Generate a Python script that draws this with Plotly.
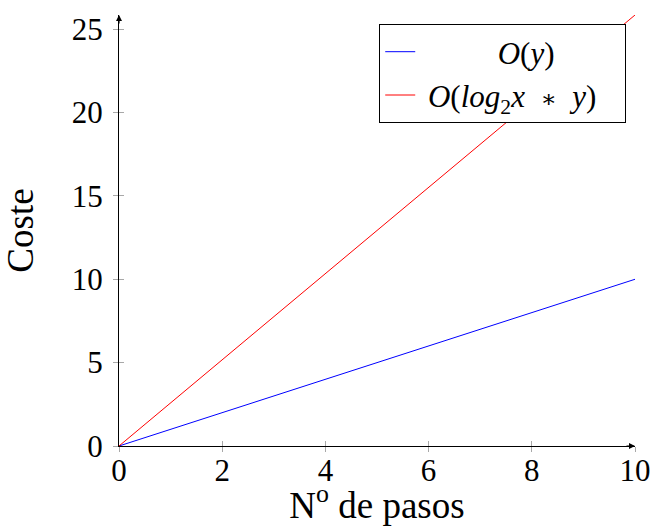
import plotly.graph_objects as go

x_vals = [0, 10]
o_y = [0, 10]
o_log = [0, 25.85]
x_ticks = [0, 2, 4, 6, 8, 10]
y_ticks = [0, 5, 10, 15, 20, 25]
series_names = ["&nbsp;&nbsp;&nbsp;&nbsp;&nbsp;&nbsp;&nbsp;&nbsp;&nbsp;&nbsp;<i>O</i>(<i>y</i>)",
                "&nbsp;<i>O</i>(<i>log</i><sub>2</sub><i>x</i>&nbsp;&nbsp;"
                "<span style=\"font-family:'DejaVu Serif';font-size:24px\">∗</span>"
                "&nbsp;&nbsp;<i>y</i>)&nbsp;&nbsp;&nbsp;"]

FONT = "Liberation Serif"
fig = go.Figure()
fig.add_trace(go.Scatter(x=x_vals, y=o_y, mode="lines", name=series_names[0],
                         line=dict(color="#0000ff", width=1)))
fig.add_trace(go.Scatter(x=x_vals, y=o_log, mode="lines", name=series_names[1],
                         line=dict(color="#ff0000", width=1)))

tickcol = "#a8a8a8"
fig.update_layout(
    width=654, height=526,
    margin=dict(l=119, r=19, t=15, b=80),
    paper_bgcolor="white", plot_bgcolor="white",
    font=dict(family=FONT, size=31, color="black"),
    showlegend=True,
    legend=dict(x=0.983, y=0.979, xanchor="right", yanchor="top",
                bordercolor="black", borderwidth=1, bgcolor="white",
                font=dict(family=FONT, size=31)),
    xaxis=dict(range=[0, 10], tickvals=x_ticks, showgrid=False, zeroline=False,
               automargin=False, ticklabelstandoff=-8,
               showline=True, linecolor="black", linewidth=1.2,
               ticks="outside", ticklen=5, tickcolor=tickcol, tickwidth=1,
               title=dict(text="N<sup>o</sup> de pasos", standoff=5)),
    yaxis=dict(range=[0, 25.85], tickvals=y_ticks, showgrid=False, zeroline=False,
               automargin=False, ticklabelstandoff=4,
               showline=True, linecolor="black", linewidth=1.2,
               ticks="outside", ticklen=5, tickcolor=tickcol, tickwidth=1,
               title=dict(text="Coste", standoff=28)),
    xaxis2=dict(overlaying="x", matches="x", anchor="y", side="bottom",
                tickvals=x_ticks, ticks="inside", ticklen=5, tickcolor=tickcol,
                showticklabels=False, showgrid=False, zeroline=False, showline=False),
    yaxis2=dict(overlaying="y", matches="y", anchor="x", side="left",
                tickvals=y_ticks, ticks="inside", ticklen=5, tickcolor=tickcol,
                showticklabels=False, showgrid=False, zeroline=False, showline=False),
)
# invisible trace to activate the inner tick axes
fig.add_trace(go.Scatter(x=[x_vals[0]], y=[o_y[0]], xaxis="x2", yaxis="y2",
                         mode="markers", marker=dict(opacity=0), showlegend=False,
                         hoverinfo="skip"))

# axis arrowheads
fig.add_annotation(x=10, y=0, xref="x", yref="y", ax=-10, ay=0, text="",
                   showarrow=True, arrowhead=2, arrowsize=1, arrowwidth=1.2,
                   arrowcolor="black")
fig.add_annotation(x=0, y=25.85, xref="x", yref="y", ax=0, ay=10, text="",
                   showarrow=True, arrowhead=2, arrowsize=1, arrowwidth=1.2,
                   arrowcolor="black")

fig.write_html("out.html", config={"displayModeBar": False},
               post_script="document.body.style.margin='0';document.body.style.overflow='hidden';")
